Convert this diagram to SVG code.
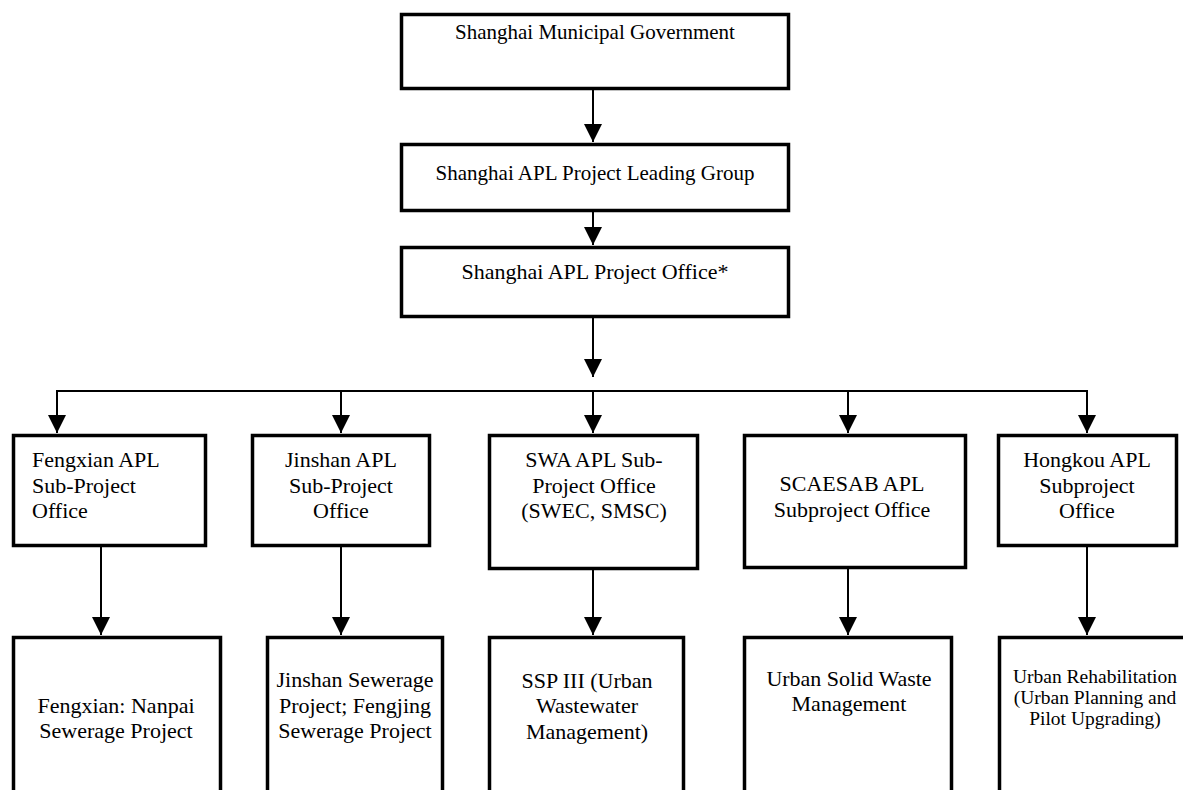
<svg xmlns="http://www.w3.org/2000/svg" width="1183" height="790" viewBox="0 0 1183 790">
<style>
.box{fill:#fff;stroke:#000;stroke-width:3.5}
.t{font-family:"Liberation Serif","Times New Roman",serif;font-size:22px;fill:#000;text-anchor:middle}
.l{text-anchor:start}
.sm{font-size:19.5px}
.c{fill:none;stroke:#000;stroke-width:2}
</style>
<defs>
<marker id="ah" markerUnits="userSpaceOnUse" markerWidth="18" markerHeight="18" refX="18" refY="9" orient="auto">
<path d="M0,0 L18,9 L0,18 z" fill="#000"/>
</marker>
</defs>
<rect width="1183" height="790" fill="#fff"/>
<g id="connectors">
<line class="c" x1="593" y1="90" x2="593" y2="142" marker-end="url(#ah)"/>
<line class="c" x1="593" y1="212" x2="593" y2="245" marker-end="url(#ah)"/>
<line class="c" x1="593" y1="318" x2="593" y2="377" marker-end="url(#ah)"/>
<line class="c" x1="57" y1="391" x2="1087" y2="391"/>
<line class="c" x1="57" y1="390" x2="57" y2="433" marker-end="url(#ah)"/>
<line class="c" x1="341" y1="391" x2="341" y2="433" marker-end="url(#ah)"/>
<line class="c" x1="593" y1="391" x2="593" y2="433" marker-end="url(#ah)"/>
<line class="c" x1="848" y1="391" x2="848" y2="433" marker-end="url(#ah)"/>
<line class="c" x1="1087" y1="390" x2="1087" y2="433" marker-end="url(#ah)"/>
<line class="c" x1="101" y1="547" x2="101" y2="635" marker-end="url(#ah)"/>
<line class="c" x1="341" y1="547" x2="341" y2="635" marker-end="url(#ah)"/>
<line class="c" x1="593" y1="570" x2="593" y2="635" marker-end="url(#ah)"/>
<line class="c" x1="848" y1="569" x2="848" y2="635" marker-end="url(#ah)"/>
<line class="c" x1="1087" y1="547" x2="1087" y2="635" marker-end="url(#ah)"/>
</g>
<g id="gov">
<rect class="box" x="401.5" y="14.5" width="387" height="74"/>
<text class="t" x="595" y="39" style="font-size:21px">Shanghai Municipal Government</text>
</g>
<g id="leading">
<rect class="box" x="401.5" y="144.5" width="387" height="66"/>
<text class="t" x="595" y="180" style="font-size:21px">Shanghai APL Project Leading Group</text>
</g>
<g id="office">
<rect class="box" x="401.5" y="247.5" width="387" height="69"/>
<text class="t" x="595" y="279">Shanghai APL Project Office*</text>
</g>
<g id="fengxian-office">
<rect class="box" x="13.5" y="435.5" width="192" height="110"/>
<text class="t l" x="32" y="467">Fengxian APL</text>
<text class="t l" x="32" y="493">Sub-Project</text>
<text class="t l" x="32" y="518">Office</text>
</g>
<g id="jinshan-office">
<rect class="box" x="252.5" y="435.5" width="177" height="110"/>
<text class="t" x="341" y="467">Jinshan APL</text>
<text class="t" x="341" y="493">Sub-Project</text>
<text class="t" x="341" y="518">Office</text>
</g>
<g id="swa-office">
<rect class="box" x="489.5" y="435.5" width="208" height="133"/>
<text class="t" x="594" y="467">SWA APL Sub-</text>
<text class="t" x="594" y="493">Project Office</text>
<text class="t" x="594" y="518">(SWEC, SMSC)</text>
</g>
<g id="scaesab-office">
<rect class="box" x="744.5" y="435.5" width="221" height="132"/>
<text class="t" x="852" y="491">SCAESAB APL</text>
<text class="t" x="852" y="517">Subproject Office</text>
</g>
<g id="hongkou-office">
<rect class="box" x="998.5" y="435.5" width="178" height="110"/>
<text class="t" x="1087" y="467">Hongkou APL</text>
<text class="t" x="1087" y="493">Subproject</text>
<text class="t" x="1087" y="518">Office</text>
</g>
<g id="fengxian-project">
<rect class="box" x="13.5" y="637.5" width="207" height="200"/>
<text class="t" x="116" y="713">Fengxian: Nanpai</text>
<text class="t" x="116" y="738">Sewerage Project</text>
</g>
<g id="jinshan-project">
<rect class="box" x="267.5" y="637.5" width="175" height="200"/>
<text class="t" x="355" y="687">Jinshan Sewerage</text>
<text class="t" x="355" y="713">Project; Fengjing</text>
<text class="t" x="355" y="738">Sewerage Project</text>
</g>
<g id="swa-project">
<rect class="box" x="489.5" y="637.5" width="194" height="200"/>
<text class="t" x="587" y="688">SSP III (Urban</text>
<text class="t" x="587" y="713">Wastewater</text>
<text class="t" x="587" y="739">Management)</text>
</g>
<g id="scaesab-project">
<rect class="box" x="744.5" y="637.5" width="207" height="200"/>
<text class="t" x="849" y="686">Urban Solid Waste</text>
<text class="t" x="849" y="711">Management</text>
</g>
<g id="hongkou-project">
<rect class="box" x="999.5" y="637.5" width="300" height="200"/>
<text class="t sm" x="1095" y="683">Urban Rehabilitation</text>
<text class="t sm" x="1095" y="704">(Urban Planning and</text>
<text class="t sm" x="1095" y="725">Pilot Upgrading)</text>
</g>
</svg>
